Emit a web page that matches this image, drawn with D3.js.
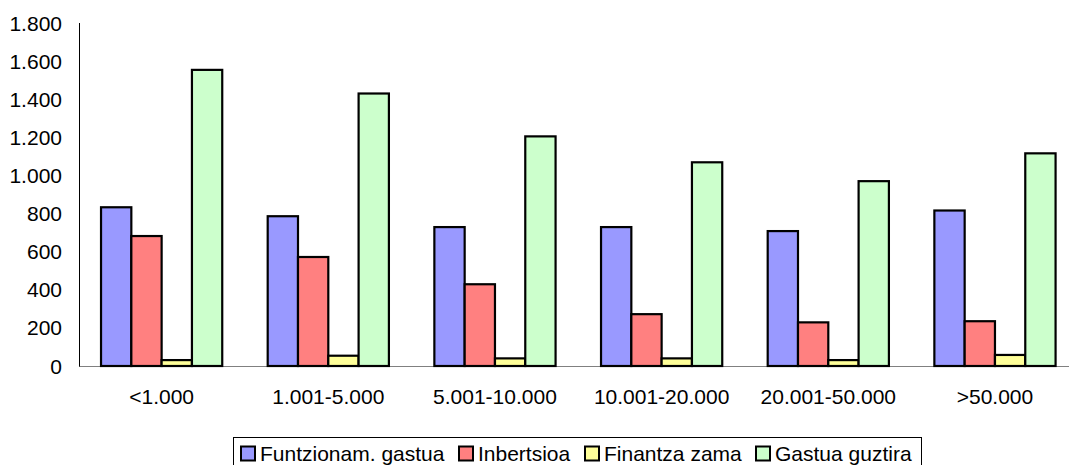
<!DOCTYPE html>
<html><head><meta charset="utf-8">
<script src="https://cdn.jsdelivr.net/npm/d3@7"></script>
<style>
html,body{margin:0;padding:0;background:#fff;}
text{font-family:"Liberation Sans",Arial,sans-serif;}
</style></head>
<body>
<svg id="chart" width="1069" height="465"></svg>
<script>
const categories = ["<1.000","1.001-5.000","5.001-10.000","10.001-20.000","20.001-50.000",">50.000"];
const seriesNames = ["Funtzionam. gastua","Inbertsioa","Finantza zama","Gastua guztira"];
const seriesColors = ["#9999FF","#FF8080","#FFFF99","#CCFFCC"];
const funtzionamGastua = [833, 786, 729, 729, 708, 816];
const inbertsioa = [682, 572, 429, 272, 229, 235];
const finantzaZama = [31, 54, 40, 40, 31, 58];
const gastuaGuztira = [1554, 1430, 1205, 1069, 970, 1116];
const yTicks = [0,200,400,600,800,1000,1200,1400,1600,1800];
const yTickLabels = ["0","200","400","600","800","1.000","1.200","1.400","1.600","1.800"];

const seriesValues = [funtzionamGastua, inbertsioa, finantzaZama, gastuaGuztira];
const svg = d3.select("#chart");
const fs = 21;

const y = d3.scaleLinear().domain([0,1800]).range([366,23]);
const x0 = d3.scaleBand().domain(categories).range([78.3,1078.3]).padding(0);
const x1 = d3.scaleBand().domain(seriesNames).range([0,x0.bandwidth()]).paddingInner(0).paddingOuter(0.75);

svg.append("line").attr("x1",79).attr("x2",1069).attr("y1",366.5).attr("y2",366.5)
  .attr("stroke","#808080").attr("stroke-width",1);

const groups = svg.selectAll("g.grp").data(categories).enter().append("g")
  .attr("transform", d => `translate(${x0(d)},0)`);
seriesNames.forEach((s, si) => {
  groups.append("rect")
    .attr("x", x1(s))
    .attr("y", (d,i) => y(seriesValues[si][i]))
    .attr("width", x1.bandwidth())
    .attr("height", (d,i) => y(0) - y(seriesValues[si][i]))
    .attr("fill", seriesColors[si])
    .attr("stroke", "#000")
    .attr("stroke-width", 2.2);
});

svg.append("line").attr("x1",79.5).attr("x2",79.5).attr("y1",23).attr("y2",366.5)
  .attr("stroke","#000").attr("stroke-width",1);

svg.selectAll("text.ytick").data(yTicks).enter().append("text")
  .attr("x", 62).attr("y", d => y(d)).attr("dy","0.36em")
  .attr("text-anchor","end").attr("font-size",fs).attr("fill","#000")
  .text((d,i) => yTickLabels[i]);

svg.selectAll("text.xlab").data(categories).enter().append("text")
  .attr("x", d => x0(d) + x0.bandwidth()/2).attr("y", 404)
  .attr("text-anchor","middle").attr("font-size",fs).attr("fill","#000")
  .text(d => d);

const leg = svg.append("g");
leg.append("rect").attr("x",233.5).attr("y",437.5).attr("width",688).attr("height",40)
  .attr("fill","#fff").attr("stroke","#000").attr("stroke-width",1);
const swatchX = [240, 458, 584, 755];
seriesNames.forEach((s, i) => {
  leg.append("rect").attr("x", swatchX[i]+1).attr("y", 446.5).attr("width", 14).attr("height", 14)
    .attr("fill", seriesColors[i]).attr("stroke","#000").attr("stroke-width",2);
  leg.append("text").attr("x", swatchX[i]+20).attr("y", 461)
    .attr("font-size", fs).attr("fill","#000").text(s);
});
</script>
</body></html>
